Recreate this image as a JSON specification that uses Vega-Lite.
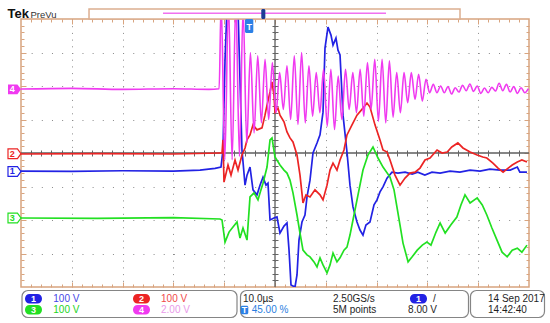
{
"$schema": "https://vega.github.io/schema/vega-lite/v6.json",
"width": 508, "height": 268,
"autosize": {"type": "none"},
"padding": {"left": 21, "top": 19, "right": 21, "bottom": 36},
"background": "#ffffff",
"config": {"view": {"stroke": "#d8a47f", "strokeWidth": 1.5}, "text": {"font": "Liberation Sans"}},
"resolve": {"axis": {"x": "independent", "y": "independent"}, "scale": {"fill": "independent"}},
"datasets": {
"traces": [
{"ch":"1","t":-45,"v":-0.54},{"ch":"1","t":-35,"v":-0.55},{"ch":"1","t":-25,"v":-0.53},{"ch":"1","t":-15,"v":-0.54},{"ch":"1","t":-9.76,"v":-0.51},{"ch":"1","t":-6.8,"v":-0.46},{"ch":"1","t":-5.63,"v":-0.42},{"ch":"1","t":-5.24,"v":0.09},{"ch":"1","t":-4.84,"v":2.78},{"ch":"1","t":-4.45,"v":4.3},{"ch":"1","t":-2.28,"v":4.3},{"ch":"1","t":-1.89,"v":2.18},{"ch":"1","t":-1.5,"v":0.09},{"ch":"1","t":-0.9,"v":-0.96},{"ch":"1","t":-0.51,"v":-0.66},{"ch":"1","t":0.08,"v":-0.42},{"ch":"1","t":0.67,"v":-1.1},{"ch":"1","t":1.46,"v":-1.25},{"ch":"1","t":2.05,"v":-0.96},{"ch":"1","t":2.64,"v":-0.72},{"ch":"1","t":3.23,"v":-0.96},{"ch":"1","t":3.62,"v":-0.9},{"ch":"1","t":4.02,"v":-2.0},{"ch":"1","t":4.8,"v":-1.94},{"ch":"1","t":5.39,"v":-1.91},{"ch":"1","t":5.98,"v":-2.39},{"ch":"1","t":6.77,"v":-2.18},{"ch":"1","t":7.36,"v":-2.09},{"ch":"1","t":7.76,"v":-2.9},{"ch":"1","t":8.15,"v":-3.94},{"ch":"1","t":8.94,"v":-4.0},{"ch":"1","t":9.33,"v":-3.64},{"ch":"1","t":9.72,"v":-2.6},{"ch":"1","t":10.31,"v":-2.06},{"ch":"1","t":10.9,"v":-1.85},{"ch":"1","t":11.3,"v":-1.31},{"ch":"1","t":11.89,"v":-0.81},{"ch":"1","t":12.48,"v":0},{"ch":"1","t":13.27,"v":0.3},{"ch":"1","t":13.86,"v":0.54},{"ch":"1","t":14.45,"v":1.22},{"ch":"1","t":14.84,"v":3.13},{"ch":"1","t":15.43,"v":3.76},{"ch":"1","t":16.02,"v":3.52},{"ch":"1","t":16.42,"v":3.22},{"ch":"1","t":17.0,"v":3.43},{"ch":"1","t":17.4,"v":3.07},{"ch":"1","t":17.8,"v":2.93},{"ch":"1","t":18.39,"v":1.13},{"ch":"1","t":19.17,"v":0.03},{"ch":"1","t":19.76,"v":-0.96},{"ch":"1","t":20.35,"v":-1.61},{"ch":"1","t":21.14,"v":-2.06},{"ch":"1","t":21.73,"v":-2.3},{"ch":"1","t":22.32,"v":-2.45},{"ch":"1","t":22.9,"v":-2.15},{"ch":"1","t":23.7,"v":-2.06},{"ch":"1","t":24.49,"v":-1.55},{"ch":"1","t":25.08,"v":-1.4},{"ch":"1","t":25.67,"v":-1.16},{"ch":"1","t":26.26,"v":-1.01},{"ch":"1","t":27.05,"v":-0.75},{"ch":"1","t":28.03,"v":-0.57},{"ch":"1","t":29.2,"v":-0.6},{"ch":"1","t":30.6,"v":-0.57},{"ch":"1","t":32.0,"v":-0.63},{"ch":"1","t":33.1,"v":-0.57},{"ch":"1","t":34.5,"v":-0.66},{"ch":"1","t":35.9,"v":-0.57},{"ch":"1","t":37.5,"v":-0.6},{"ch":"1","t":39.45,"v":-0.54},{"ch":"1","t":41.4,"v":-0.57},{"ch":"1","t":43.4,"v":-0.51},{"ch":"1","t":45.35,"v":-0.54},{"ch":"1","t":47.3,"v":-0.48},{"ch":"1","t":49.3,"v":-0.51},{"ch":"1","t":51.3,"v":-0.51},{"ch":"1","t":52.7,"v":-0.42},{"ch":"1","t":53.2,"v":-0.57},{"ch":"1","t":54.6,"v":-0.57},
{"ch":"2","t":-45,"v":-0.03},{"ch":"2","t":-30,"v":-0.02},{"ch":"2","t":-15,"v":-0.03},{"ch":"2","t":-5.83,"v":0},{"ch":"2","t":-5.43,"v":0},{"ch":"2","t":-5.24,"v":0.39},{"ch":"2","t":-5.04,"v":-0.87},{"ch":"2","t":-4.25,"v":-0.36},{"ch":"2","t":-3.66,"v":-0.66},{"ch":"2","t":-2.87,"v":-0.21},{"ch":"2","t":-2.28,"v":-0.51},{"ch":"2","t":-1.5,"v":-0.06},{"ch":"2","t":-0.9,"v":0.15},{"ch":"2","t":-0.51,"v":0.39},{"ch":"2","t":0.08,"v":0.54},{"ch":"2","t":0.67,"v":0.84},{"ch":"2","t":1.46,"v":0.69},{"ch":"2","t":2.44,"v":0.75},{"ch":"2","t":3.03,"v":1.13},{"ch":"2","t":3.43,"v":1.43},{"ch":"2","t":4.02,"v":1.82},{"ch":"2","t":4.41,"v":2.12},{"ch":"2","t":4.8,"v":1.73},{"ch":"2","t":5.0,"v":1.22},{"ch":"2","t":5.59,"v":1.34},{"ch":"2","t":5.98,"v":1.13},{"ch":"2","t":6.77,"v":0.93},{"ch":"2","t":7.36,"v":0.63},{"ch":"2","t":7.95,"v":0.45},{"ch":"2","t":8.54,"v":0.33},{"ch":"2","t":9.33,"v":-0.06},{"ch":"2","t":9.92,"v":-0.66},{"ch":"2","t":10.51,"v":-1.49},{"ch":"2","t":11.1,"v":-1.25},{"ch":"2","t":11.89,"v":-1.31},{"ch":"2","t":12.87,"v":-1.1},{"ch":"2","t":13.86,"v":-1.25},{"ch":"2","t":14.45,"v":-1.4},{"ch":"2","t":15.24,"v":-0.96},{"ch":"2","t":15.83,"v":-0.51},{"ch":"2","t":16.42,"v":-0.3},{"ch":"2","t":17.2,"v":-0.51},{"ch":"2","t":17.8,"v":-0.21},{"ch":"2","t":18.58,"v":0.09},{"ch":"2","t":19.17,"v":0.54},{"ch":"2","t":20.16,"v":0.84},{"ch":"2","t":21.14,"v":1.13},{"ch":"2","t":22.32,"v":1.34},{"ch":"2","t":23.11,"v":1.49},{"ch":"2","t":23.7,"v":1.37},{"ch":"2","t":24.68,"v":0.84},{"ch":"2","t":25.67,"v":0.39},{"ch":"2","t":26.26,"v":0.09},{"ch":"2","t":27.05,"v":0.03},{"ch":"2","t":27.64,"v":-0.21},{"ch":"2","t":28.62,"v":-0.66},{"ch":"2","t":29.61,"v":-0.96},{"ch":"2","t":30.6,"v":-0.75},{"ch":"2","t":31.57,"v":-0.6},{"ch":"2","t":32.56,"v":-0.57},{"ch":"2","t":33.54,"v":-0.45},{"ch":"2","t":34.53,"v":-0.21},{"ch":"2","t":35.51,"v":-0.15},{"ch":"2","t":36.9,"v":0.09},{"ch":"2","t":37.9,"v":0},{"ch":"2","t":38.9,"v":0.03},{"ch":"2","t":39.8,"v":0.18},{"ch":"2","t":41.0,"v":0.3},{"ch":"2","t":42.0,"v":0.15},{"ch":"2","t":43.4,"v":0.03},{"ch":"2","t":44.8,"v":-0.06},{"ch":"2","t":45.9,"v":-0.12},{"ch":"2","t":46.7,"v":-0.15},{"ch":"2","t":47.9,"v":-0.3},{"ch":"2","t":48.9,"v":-0.45},{"ch":"2","t":49.9,"v":-0.57},{"ch":"2","t":50.9,"v":-0.45},{"ch":"2","t":51.7,"v":-0.36},{"ch":"2","t":52.7,"v":-0.27},{"ch":"2","t":53.6,"v":-0.21},{"ch":"2","t":54.6,"v":-0.27},
{"ch":"3","t":-45,"v":-1.94},{"ch":"3","t":-30,"v":-1.95},{"ch":"3","t":-15,"v":-1.93},{"ch":"3","t":-5.83,"v":-1.97},{"ch":"3","t":-5.43,"v":-2.0},{"ch":"3","t":-4.84,"v":-2.66},{"ch":"3","t":-4.05,"v":-2.36},{"ch":"3","t":-3.27,"v":-2.21},{"ch":"3","t":-2.48,"v":-2.06},{"ch":"3","t":-1.89,"v":-2.54},{"ch":"3","t":-1.3,"v":-2.24},{"ch":"3","t":-0.51,"v":-2.6},{"ch":"3","t":0.08,"v":-1.31},{"ch":"3","t":0.87,"v":-1.19},{"ch":"3","t":1.65,"v":-1.4},{"ch":"3","t":2.24,"v":-1.1},{"ch":"3","t":2.64,"v":-0.9},{"ch":"3","t":3.43,"v":-0.42},{"ch":"3","t":4.02,"v":0.39},{"ch":"3","t":4.41,"v":0.45},{"ch":"3","t":5.0,"v":-0.12},{"ch":"3","t":5.98,"v":-0.36},{"ch":"3","t":6.77,"v":-0.51},{"ch":"3","t":7.36,"v":-0.6},{"ch":"3","t":7.95,"v":-0.81},{"ch":"3","t":8.54,"v":-1.19},{"ch":"3","t":9.33,"v":-1.85},{"ch":"3","t":9.92,"v":-2.39},{"ch":"3","t":10.51,"v":-2.9},{"ch":"3","t":11.3,"v":-3.04},{"ch":"3","t":11.89,"v":-3.1},{"ch":"3","t":12.68,"v":-3.25},{"ch":"3","t":13.27,"v":-3.4},{"ch":"3","t":13.86,"v":-3.13},{"ch":"3","t":14.45,"v":-3.34},{"ch":"3","t":15.24,"v":-3.58},{"ch":"3","t":15.83,"v":-3.34},{"ch":"3","t":16.42,"v":-2.99},{"ch":"3","t":17.2,"v":-3.25},{"ch":"3","t":17.8,"v":-3.13},{"ch":"3","t":18.58,"v":-2.9},{"ch":"3","t":19.17,"v":-2.81},{"ch":"3","t":19.76,"v":-2.45},{"ch":"3","t":20.35,"v":-2.0},{"ch":"3","t":21.34,"v":-1.25},{"ch":"3","t":22.32,"v":-0.51},{"ch":"3","t":23.3,"v":-0.06},{"ch":"3","t":24.29,"v":0.18},{"ch":"3","t":25.28,"v":-0.15},{"ch":"3","t":26.26,"v":-0.42},{"ch":"3","t":27.64,"v":-0.72},{"ch":"3","t":28.43,"v":-1.1},{"ch":"3","t":29.0,"v":-1.61},{"ch":"3","t":29.61,"v":-2.15},{"ch":"3","t":30.2,"v":-2.69},{"ch":"3","t":31.2,"v":-3.25},{"ch":"3","t":32.0,"v":-3.1},{"ch":"3","t":33.0,"v":-2.9},{"ch":"3","t":34.0,"v":-2.75},{"ch":"3","t":34.9,"v":-2.66},{"ch":"3","t":35.7,"v":-2.75},{"ch":"3","t":36.7,"v":-2.36},{"ch":"3","t":37.5,"v":-2.09},{"ch":"3","t":38.5,"v":-2.39},{"ch":"3","t":39.6,"v":-2.15},{"ch":"3","t":40.8,"v":-1.91},{"ch":"3","t":41.6,"v":-1.55},{"ch":"3","t":42.4,"v":-1.25},{"ch":"3","t":43.4,"v":-1.49},{"ch":"3","t":44.8,"v":-1.34},{"ch":"3","t":45.8,"v":-1.55},{"ch":"3","t":46.7,"v":-1.85},{"ch":"3","t":47.7,"v":-2.24},{"ch":"3","t":48.7,"v":-2.6},{"ch":"3","t":49.7,"v":-2.96},{"ch":"3","t":50.7,"v":-3.1},{"ch":"3","t":51.7,"v":-2.9},{"ch":"3","t":52.7,"v":-2.84},{"ch":"3","t":53.6,"v":-2.96},{"ch":"3","t":54.6,"v":-2.75},
{"ch":"4","t":-45,"v":1.91},{"ch":"4","t":-35,"v":1.93},{"ch":"4","t":-25,"v":1.9},{"ch":"4","t":-15,"v":1.92},{"ch":"4","t":-8,"v":1.9},{"ch":"4","t":-6.0,"v":1.92},{"ch":"4","t":-5.6,"v":4.5},{"ch":"4","t":-4.88,"v":-0.2},{"ch":"4","t":-4.16,"v":4.5},{"ch":"4","t":-3.44,"v":-0.2},{"ch":"4","t":-2.72,"v":4.5},{"ch":"4","t":-2.0,"v":-0.1},{"ch":"4","t":-1.28,"v":4.3},{"ch":"4","t":-0.56,"v":0.3},{"ch":"4","t":0.16,"v":3.0},{"ch":"4","t":0.88,"v":0.6},{"ch":"4","t":1.6,"v":2.9},{"ch":"4","t":2.32,"v":0.9},{"ch":"4","t":3.04,"v":2.8},{"ch":"4","t":3.76,"v":1.0},{"ch":"4","t":4.48,"v":2.7},{"ch":"4","t":5.2,"v":1.2},{"ch":"4","t":5.92,"v":2.4},{"ch":"4","t":6.64,"v":1.3},{"ch":"4","t":7.36,"v":2.6},{"ch":"4","t":8.08,"v":1.0},{"ch":"4","t":8.8,"v":2.9},{"ch":"4","t":9.52,"v":0.85},{"ch":"4","t":10.24,"v":3.0},{"ch":"4","t":10.96,"v":0.9},{"ch":"4","t":11.68,"v":2.6},{"ch":"4","t":12.4,"v":1.1},{"ch":"4","t":13.12,"v":2.4},{"ch":"4","t":13.84,"v":1.2},{"ch":"4","t":14.56,"v":2.5},{"ch":"4","t":15.28,"v":0.8},{"ch":"4","t":16.0,"v":2.5},{"ch":"4","t":16.72,"v":0.7},{"ch":"4","t":17.44,"v":2.3},{"ch":"4","t":18.16,"v":1.0},{"ch":"4","t":18.88,"v":2.5},{"ch":"4","t":19.6,"v":1.3},{"ch":"4","t":20.32,"v":2.4},{"ch":"4","t":21.04,"v":1.2},{"ch":"4","t":21.76,"v":2.5},{"ch":"4","t":22.48,"v":1.1},{"ch":"4","t":23.2,"v":2.7},{"ch":"4","t":23.92,"v":1.3},{"ch":"4","t":24.64,"v":2.8},{"ch":"4","t":25.36,"v":0.95},{"ch":"4","t":26.08,"v":2.8},{"ch":"4","t":26.8,"v":0.9},{"ch":"4","t":27.52,"v":2.75},{"ch":"4","t":28.24,"v":1.07},{"ch":"4","t":28.96,"v":2.4},{"ch":"4","t":29.68,"v":1.2},{"ch":"4","t":30.4,"v":2.4},{"ch":"4","t":31.12,"v":1.5},{"ch":"4","t":31.84,"v":2.4},{"ch":"4","t":32.56,"v":1.6},{"ch":"4","t":33.28,"v":2.35},{"ch":"4","t":34.0,"v":1.55},{"ch":"4","t":34.72,"v":2.2},{"ch":"4","t":35.44,"v":1.8},{"ch":"4","t":36.16,"v":2.05},{"ch":"4","t":36.88,"v":1.8},{"ch":"4","t":37.6,"v":2.0},{"ch":"4","t":38.32,"v":1.8},{"ch":"4","t":39.04,"v":1.98},{"ch":"4","t":39.76,"v":1.76},{"ch":"4","t":40.48,"v":1.95},{"ch":"4","t":41.2,"v":1.82},{"ch":"4","t":41.92,"v":2.02},{"ch":"4","t":42.64,"v":1.86},{"ch":"4","t":43.36,"v":2.06},{"ch":"4","t":44.08,"v":1.84},{"ch":"4","t":44.8,"v":2.0},{"ch":"4","t":45.52,"v":1.78},{"ch":"4","t":46.24,"v":1.94},{"ch":"4","t":46.96,"v":1.8},{"ch":"4","t":47.68,"v":1.96},{"ch":"4","t":48.4,"v":1.85},{"ch":"4","t":49.12,"v":2.08},{"ch":"4","t":49.84,"v":1.86},{"ch":"4","t":50.56,"v":2.05},{"ch":"4","t":51.28,"v":1.82},{"ch":"4","t":52.0,"v":1.98},{"ch":"4","t":52.72,"v":1.78},{"ch":"4","t":53.44,"v":1.95},{"ch":"4","t":54.16,"v":1.8},{"ch":"4","t":54.88,"v":1.92}
]
},
"layer": [
{"data": {"values": [{}]}, "mark": {"type": "rule", "color": "#5e5e5e", "strokeWidth": 1.3},
 "encoding": {"x": {"datum": 5, "type": "quantitative", "scale": {"domain": [-45, 55], "nice": false, "zero": false}, "axis": null}}},
{"data": {"values": [{}]}, "mark": {"type": "rule", "color": "#5e5e5e", "strokeWidth": 1.3},
 "encoding": {"y": {"datum": 0, "type": "quantitative", "scale": {"domain": [-4, 4], "nice": false, "zero": false}, "axis": null}}},
{"data": {"name": "traces"}, "transform": [{"filter": "datum.ch != '4'"}], "mark": {"type": "line", "strokeWidth": 1.7, "clip": true},
 "encoding": {
  "x": {"field": "t", "type": "quantitative", "scale": {"domain": [-45, 55], "nice": false, "zero": false},
        "axis": {"values": [-35,-25,-15,-5,5,15,25,35,45], "grid": true, "gridColor": "#8a8a8a", "gridDash": [1, 5.7], "gridWidth": 1, "ticks": false, "labels": false, "domain": false, "title": null}},
  "y": {"field": "v", "type": "quantitative", "scale": {"domain": [-4, 4], "nice": false, "zero": false},
        "axis": {"values": [-3,-2,-1,1,2,3], "grid": true, "gridColor": "#8a8a8a", "gridDash": [1, 9.16], "gridWidth": 1, "ticks": false, "labels": false, "domain": false, "title": null}},
  "color": {"field": "ch", "type": "nominal", "scale": {"domain": ["1","2","3","4"], "range": ["#2222e4", "#ec2424", "#22e022", "#f03af0"]}, "legend": null}
 }},
{"data": {"name": "traces"}, "transform": [{"filter": "datum.ch == '4'"}], "mark": {"type": "line", "strokeWidth": 1.6, "interpolate": "monotone", "clip": true},
 "encoding": {
  "x": {"field": "t", "type": "quantitative", "scale": {"domain": [-45, 55], "nice": false, "zero": false}, "axis": null},
  "y": {"field": "v", "type": "quantitative", "scale": {"domain": [-4, 4], "nice": false, "zero": false}, "axis": null},
  "color": {"field": "ch", "type": "nominal", "legend": null}
 }},
{"data": {"values": [{"ch": "4", "t": -46.28, "v": 1.9}]},
 "mark": {"type": "point", "shape": "M-1,-0.75L0.45,-0.75L1,0L0.45,0.75L-1,0.75Z", "filled": true, "size": 169, "opacity": 1, "clip": false},
 "encoding": {
  "x": {"field": "t", "type": "quantitative", "scale": {"domain": [-45, 55], "nice": false, "zero": false},
        "axis": {"orient": "bottom", "offset": -5, "tickSize": 5, "tickColor": "#d8a47f", "tickWidth": 1, "values": [-35,-25,-15,-5,5,15,25,35,45], "grid": false, "labels": false, "domain": false, "title": null}},
  "y": {"field": "v", "type": "quantitative", "scale": {"domain": [-4, 4], "nice": false, "zero": false},
        "axis": {"orient": "left", "offset": -5, "tickSize": 5, "tickColor": "#d8a47f", "tickWidth": 1, "values": [-3,-2,-1,0,1,2,3], "grid": false, "labels": false, "domain": false, "title": null}},
  "color": {"field": "ch", "type": "nominal", "legend": null}
 }},
{"data": {"values": [{"ch": "2", "t": -46.28, "v": -0.02}, {"ch": "1", "t": -46.28, "v": -0.55}, {"ch": "3", "t": -46.28, "v": -1.94}]},
 "mark": {"type": "point", "shape": "M-1,-0.75L0.45,-0.75L1,0L0.45,0.75L-1,0.75Z", "filled": false, "size": 169, "opacity": 1, "strokeWidth": 1.2, "clip": false},
 "encoding": {
  "x": {"field": "t", "type": "quantitative", "scale": {"domain": [-45, 55], "nice": false, "zero": false},
        "axis": {"orient": "bottom", "offset": -3, "tickSize": 3, "tickColor": "#d8a47f", "tickWidth": 1, "values": [-43,-41,-39,-37,-35,-33,-31,-29,-27,-25,-23,-21,-19,-17,-15,-13,-11,-9,-7,-5,-3,-1,1,3,5,7,9,11,13,15,17,19,21,23,25,27,29,31,33,35,37,39,41,43,45,47,49,51,53], "grid": false, "labels": false, "domain": false, "title": null}},
  "y": {"field": "v", "type": "quantitative", "scale": {"domain": [-4, 4], "nice": false, "zero": false},
        "axis": {"orient": "left", "offset": -3, "tickSize": 3, "tickColor": "#d8a47f", "tickWidth": 1, "values": [-3.8,-3.6,-3.4,-3.2,-3,-2.8,-2.6,-2.4,-2.2,-2,-1.8,-1.6,-1.4,-1.2,-1,-0.8,-0.6,-0.4,-0.2,0,0.2,0.4,0.6,0.8,1,1.2,1.4,1.6,1.8,2,2.2,2.4,2.6,2.8,3,3.2,3.4,3.6,3.8], "grid": false, "labels": false, "domain": false, "title": null}},
  "color": {"field": "ch", "type": "nominal", "legend": null}
 }},
{"data": {"values": [{"ch": "2", "label": "2", "t": -46.7, "v": -0.02}, {"ch": "1", "label": "1", "t": -46.7, "v": -0.55}, {"ch": "3", "label": "3", "t": -46.7, "v": -1.94}]},
 "mark": {"type": "text", "fontSize": 9, "fontWeight": "bold", "clip": false},
 "encoding": {
  "x": {"field": "t", "type": "quantitative", "scale": {"domain": [-45, 55], "nice": false, "zero": false},
        "axis": {"orient": "top", "offset": -5, "tickSize": 5, "tickColor": "#d8a47f", "tickWidth": 1, "values": [-35,-25,-15,-5,5,15,25,35,45], "grid": false, "labels": false, "domain": false, "title": null}},
  "y": {"field": "v", "type": "quantitative", "scale": {"domain": [-4, 4], "nice": false, "zero": false},
        "axis": {"orient": "right", "offset": -5, "tickSize": 5, "tickColor": "#d8a47f", "tickWidth": 1, "values": [-3,-2,-1,0,1,2,3], "grid": false, "labels": false, "domain": false, "title": null}},
  "color": {"field": "ch", "type": "nominal", "legend": null},
  "text": {"field": "label"}
 }},
{"data": {"values": [{"label": "4", "t": -46.7, "v": 1.9}]},
 "mark": {"type": "text", "fontSize": 9, "fontWeight": "bold", "color": "#ffffff", "clip": false},
 "encoding": {
  "x": {"field": "t", "type": "quantitative", "scale": {"domain": [-45, 55], "nice": false, "zero": false},
        "axis": {"orient": "top", "offset": -3, "tickSize": 3, "tickColor": "#d8a47f", "tickWidth": 1, "values": [-43,-41,-39,-37,-35,-33,-31,-29,-27,-25,-23,-21,-19,-17,-15,-13,-11,-9,-7,-5,-3,-1,1,3,5,7,9,11,13,15,17,19,21,23,25,27,29,31,33,35,37,39,41,43,45,47,49,51,53], "grid": false, "labels": false, "domain": false, "title": null}},
  "y": {"field": "v", "type": "quantitative", "scale": {"domain": [-4, 4], "nice": false, "zero": false},
        "axis": {"orient": "right", "offset": -3, "tickSize": 3, "tickColor": "#d8a47f", "tickWidth": 1, "values": [-3.8,-3.6,-3.4,-3.2,-3,-2.8,-2.6,-2.4,-2.2,-2,-1.8,-1.6,-1.4,-1.2,-1,-0.8,-0.6,-0.4,-0.2,0,0.2,0.4,0.6,0.8,1,1.2,1.4,1.6,1.8,2,2.2,2.4,2.6,2.8,3,3.2,3.4,3.6,3.8], "grid": false, "labels": false, "domain": false, "title": null}},
  "text": {"field": "label"}
 }},
{"data": {"values": [{"t1": -31.61, "t2": 41.42, "v1": 4.3, "v2": 4.0}]},
 "mark": {"type": "rect", "fill": "#ffffff", "stroke": "#dcae90", "strokeWidth": 1.5, "clip": false},
 "encoding": {
  "x": {"field": "t1", "type": "quantitative", "scale": {"domain": [-45, 55], "nice": false, "zero": false},
        "axis": {"orient": "bottom", "offset": -134, "tickSize": 3, "tickColor": "#666666", "tickWidth": 1, "values": [-43,-41,-39,-37,-35,-33,-31,-29,-27,-25,-23,-21,-19,-17,-15,-13,-11,-9,-7,-5,-3,-1,1,3,7,9,11,13,15,17,19,21,23,25,27,29,31,33,35,37,39,41,43,45,47,49,51,53], "grid": false, "labels": false, "domain": false, "title": null}},
  "x2": {"field": "t2"},
  "y": {"field": "v1", "type": "quantitative", "scale": {"domain": [-4, 4], "nice": false, "zero": false},
        "axis": {"orient": "left", "offset": -254, "tickSize": 3, "tickColor": "#666666", "tickWidth": 1, "values": [-3.8,-3.6,-3.4,-3.2,-3,-2.8,-2.6,-2.4,-2.2,-2,-1.8,-1.6,-1.4,-1.2,-1,-0.8,-0.6,-0.4,-0.2,0.2,0.4,0.6,0.8,1,1.2,1.4,1.6,1.8,2,2.2,2.4,2.6,2.8,3,3.2,3.4,3.6,3.8], "grid": false, "labels": false, "domain": false, "title": null}},
  "y2": {"field": "v2"}
 }},
{"data": {"values": [{"t1": -44.8, "t2": -2.48, "v1": -4.104, "v2": -4.91}, {"t1": -1.79, "t2": 43.09, "v1": -4.104, "v2": -4.91}, {"t1": 43.48, "t2": 58.05, "v1": -4.104, "v2": -4.91}]},
 "mark": {"type": "rect", "fill": "#ffffff", "stroke": "#858585", "strokeWidth": 1.2, "cornerRadius": 6, "clip": false},
 "encoding": {
  "x": {"field": "t1", "type": "quantitative", "scale": {"domain": [-45, 55], "nice": false, "zero": false},
        "axis": {"orient": "top", "offset": -134, "tickSize": 3, "tickColor": "#666666", "tickWidth": 1, "values": [-43,-41,-39,-37,-35,-33,-31,-29,-27,-25,-23,-21,-19,-17,-15,-13,-11,-9,-7,-5,-3,-1,1,3,7,9,11,13,15,17,19,21,23,25,27,29,31,33,35,37,39,41,43,45,47,49,51,53], "grid": false, "labels": false, "domain": false, "title": null}},
  "x2": {"field": "t2"},
  "y": {"field": "v1", "type": "quantitative", "scale": {"domain": [-4, 4], "nice": false, "zero": false},
        "axis": {"orient": "right", "offset": -254, "tickSize": 3, "tickColor": "#666666", "tickWidth": 1, "values": [-3.8,-3.6,-3.4,-3.2,-3,-2.8,-2.6,-2.4,-2.2,-2,-1.8,-1.6,-1.4,-1.2,-1,-0.8,-0.6,-0.4,-0.2,0.2,0.4,0.6,0.8,1,1.2,1.4,1.6,1.8,2,2.2,2.4,2.6,2.8,3,3.2,3.4,3.6,3.8], "grid": false, "labels": false, "domain": false, "title": null}},
  "y2": {"field": "v2"}
 }},
{"data": {"values": [{"t1": -17.05, "t2": 26.85, "v": 4.17}]},
 "mark": {"type": "rule", "color": "#f070f0", "strokeWidth": 1.6, "clip": false},
 "encoding": {
  "x": {"field": "t1", "type": "quantitative", "scale": {"domain": [-45, 55], "nice": false, "zero": false}, "axis": null},
  "x2": {"field": "t2"},
  "y": {"field": "v", "type": "quantitative", "scale": {"domain": [-4, 4], "nice": false, "zero": false}, "axis": null}
 }},
{"data": {"values": [{"t1": 2.3, "t2": 3.1, "v1": 4.3, "v2": 4.0}]},
 "mark": {"type": "rect", "cornerRadius": 1.5, "fill": "#1c3c96", "clip": false},
 "encoding": {
  "x": {"field": "t1", "type": "quantitative", "scale": {"domain": [-45, 55], "nice": false, "zero": false}, "axis": null},
  "x2": {"field": "t2"},
  "y": {"field": "v1", "type": "quantitative", "scale": {"domain": [-4, 4], "nice": false, "zero": false}, "axis": null},
  "y2": {"field": "v2"}
 }},
{"data": {"values": [{"t1": -0.91, "t2": 0.73, "v1": 4.0, "v2": 3.58}, {"t1": -1.75, "t2": -0.26, "v1": -4.558, "v2": -4.815}]},
 "mark": {"type": "rect", "cornerRadius": 1.5, "fill": "#2b80e6", "clip": false},
 "encoding": {
  "x": {"field": "t1", "type": "quantitative", "scale": {"domain": [-45, 55], "nice": false, "zero": false}, "axis": null},
  "x2": {"field": "t2"},
  "y": {"field": "v1", "type": "quantitative", "scale": {"domain": [-4, 4], "nice": false, "zero": false}, "axis": null},
  "y2": {"field": "v2"}
 }},
{"data": {"values": [{"t1": -44.21, "t2": -40.87, "v1": -4.209, "v2": -4.493, "ch": "1"}, {"t1": -44.21, "t2": -40.87, "v1": -4.537, "v2": -4.821, "ch": "3"}, {"t1": -22.95, "t2": -19.61, "v1": -4.209, "v2": -4.493, "ch": "2"}, {"t1": -22.95, "t2": -19.61, "v1": -4.537, "v2": -4.821, "ch": "4"}, {"t1": 31.57, "t2": 34.92, "v1": -4.209, "v2": -4.493, "ch": "1"}]},
 "mark": {"type": "rect", "cornerRadius": 4.5, "clip": false},
 "encoding": {
  "x": {"field": "t1", "type": "quantitative", "scale": {"domain": [-45, 55], "nice": false, "zero": false}, "axis": null},
  "x2": {"field": "t2"},
  "y": {"field": "v1", "type": "quantitative", "scale": {"domain": [-4, 4], "nice": false, "zero": false}, "axis": null},
  "y2": {"field": "v2"},
  "color": {"field": "ch", "type": "nominal", "legend": null}
 }},
{"data": {"values": [{"label": "1", "t": -42.54, "v": -4.35}, {"label": "3", "t": -42.54, "v": -4.68}, {"label": "2", "t": -21.28, "v": -4.35}, {"label": "4", "t": -21.28, "v": -4.68}, {"label": "1", "t": 33.25, "v": -4.35}, {"label": "T", "t": -1.0, "v": -4.69}, {"label": "T", "t": -0.09, "v": 3.77}]},
 "mark": {"type": "text", "fontSize": 9, "fontWeight": "bold", "color": "#ffffff", "clip": false},
 "encoding": {
  "x": {"field": "t", "type": "quantitative", "scale": {"domain": [-45, 55], "nice": false, "zero": false}, "axis": null},
  "y": {"field": "v", "type": "quantitative", "scale": {"domain": [-4, 4], "nice": false, "zero": false}, "axis": null},
  "text": {"field": "label"}
 }},
{"data": {"values": [{"label": "10.0µs", "t": -1.3, "v": -4.35}, {"label": "2.50GS/s", "t": 16.42, "v": -4.35}, {"label": "5M points", "t": 16.42, "v": -4.69}, {"label": "/", "t": 36.1, "v": -4.35}, {"label": "8.00 V", "t": 31.2, "v": -4.69}, {"label": "14 Sep 2017", "t": 46.93, "v": -4.35}, {"label": "14:42:40", "t": 46.93, "v": -4.69}]},
 "mark": {"type": "text", "fontSize": 10, "align": "left", "color": "#1e1e1e", "clip": false},
 "encoding": {
  "x": {"field": "t", "type": "quantitative", "scale": {"domain": [-45, 55], "nice": false, "zero": false}, "axis": null},
  "y": {"field": "v", "type": "quantitative", "scale": {"domain": [-4, 4], "nice": false, "zero": false}, "axis": null},
  "text": {"field": "label"}
 }},
{"data": {"values": [{"label": "100 V", "t": -38.64, "v": -4.35, "k": "a"}, {"label": "100 V", "t": -17.44, "v": -4.35, "k": "b"}, {"label": "100 V", "t": -38.64, "v": -4.69, "k": "c"}, {"label": "2.00 V", "t": -17.44, "v": -4.69, "k": "d"}, {"label": "45.00 %", "t": 0.41, "v": -4.69, "k": "e"}]},
 "mark": {"type": "text", "fontSize": 10, "align": "left", "clip": false},
 "encoding": {
  "x": {"field": "t", "type": "quantitative", "scale": {"domain": [-45, 55], "nice": false, "zero": false}, "axis": null},
  "y": {"field": "v", "type": "quantitative", "scale": {"domain": [-4, 4], "nice": false, "zero": false}, "axis": null},
  "fill": {"field": "k", "type": "nominal", "scale": {"domain": ["a","b","c","d","e"], "range": ["#4646e6", "#f04a4a", "#22d422", "#e99ae9", "#2a7ee0"]}, "legend": null},
  "text": {"field": "label"}
 }},
{"data": {"values": [{"label": "Tek", "t": -47.66, "v": 4.16}]},
 "mark": {"type": "text", "fontSize": 13, "fontWeight": "bold", "align": "left", "color": "#111111", "clip": false},
 "encoding": {
  "x": {"field": "t", "type": "quantitative", "scale": {"domain": [-45, 55], "nice": false, "zero": false}, "axis": null},
  "y": {"field": "v", "type": "quantitative", "scale": {"domain": [-4, 4], "nice": false, "zero": false}, "axis": null},
  "text": {"field": "label"}
 }},
{"data": {"values": [{"label": "PreVu", "t": -43.13, "v": 4.13}]},
 "mark": {"type": "text", "fontSize": 9.5, "align": "left", "color": "#333333", "clip": false},
 "encoding": {
  "x": {"field": "t", "type": "quantitative", "scale": {"domain": [-45, 55], "nice": false, "zero": false}, "axis": null},
  "y": {"field": "v", "type": "quantitative", "scale": {"domain": [-4, 4], "nice": false, "zero": false}, "axis": null},
  "text": {"field": "label"}
 }}
]
}
